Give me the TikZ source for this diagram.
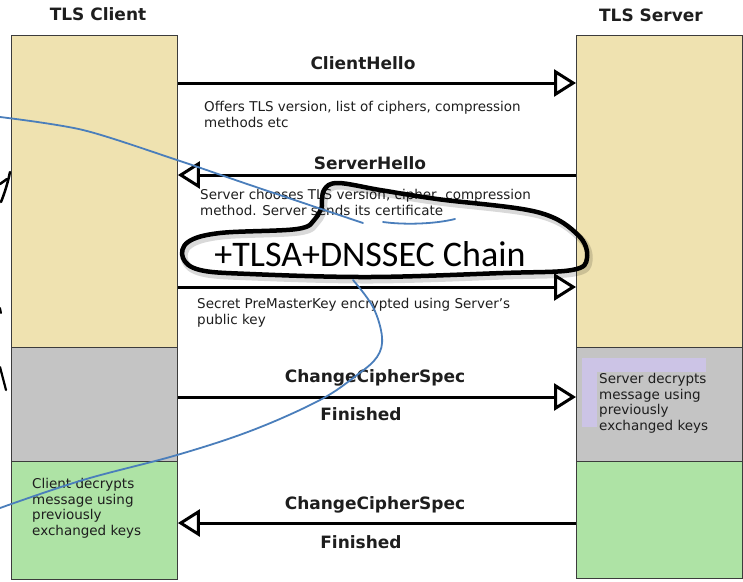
\documentclass[tikz,border=0pt]{standalone}
\usepackage{fontspec}
\setmainfont{DejaVu Sans}
\newfontfamily\handfont{Carlito}
\usetikzlibrary{arrows.meta}

\definecolor{laneBeige}{RGB}{239,226,176}
\definecolor{laneGray}{RGB}{196,196,196}
\definecolor{laneGreen}{RGB}{174,227,165}
\definecolor{notePurple}{RGB}{204,196,230}
\definecolor{boxLine}{RGB}{60,60,60}
\definecolor{inkText}{RGB}{30,30,30}
\definecolor{penBlue}{RGB}{74,126,187}

\begin{document}
\begin{tikzpicture}[x=1pt,y=-1pt,
  lane/.style={draw=boxLine, line width=0.9pt, inner sep=0pt, minimum width=166pt, anchor=north west},
  title/.style={font=\bfseries\fontsize{17}{20}\selectfont, text=inkText},
  msglabel/.style={font=\bfseries\fontsize{17}{20}\selectfont, text=inkText},
  note/.style={font=\fontsize{13.5}{15.7}\selectfont, text=inkText, align=left, anchor=north west, inner sep=0pt},
  msg/.style={line width=3pt, -{Triangle[open, length=22pt, width=27pt]}},
  ink/.style={line width=4.5pt, line cap=round, line join=round},
  pen/.style={draw=penBlue, line width=1.8pt, line cap=round, line join=round}
]
\useasboundingbox (0,0) rectangle (743,581);

% lane titles
\node[title] (tc) at (98,14) {TLS Client};
\node[title] (ts) at (651,15) {TLS Server};

% client lane
\node[lane, fill=laneBeige, minimum height=312pt] (cb) at (11,35) {};
\node[lane, fill=laneGray,  minimum height=114pt] (cg) at (11,347) {};
\node[lane, fill=laneGreen, minimum height=118pt] (cn) at (11,461) {};

% server lane
\node[lane, fill=laneBeige, minimum height=312pt] (sb) at (576,35) {};
\node[lane, fill=laneGray,  minimum height=114pt] (sg) at (576,347) {};
\node[lane, fill=laneGreen, minimum height=117pt] (sn) at (576,461) {};

% highlighted note inside the server's gray phase
\fill[notePurple] (582,358) rectangle (706,427);
\fill[laneGray] (597,372) rectangle (706,432);
\node[note] (sdec) at (599,373) {Server decrypts\\message using\\previously\\exchanged keys};
\node[note] (cdec) at (32,478) {Client decrypts\\message using\\previously\\exchanged keys};

% handshake messages
\node[msglabel] (m1) at (363,63) {ClientHello};
\draw[msg] (cb.east |- 0,83) -- (sb.west |- 0,83);
\node[note] (d1) at (204,101) {Offers TLS version, list of ciphers, compression\\methods etc};

\node[msglabel] (m2) at (370,163) {ServerHello};
\draw[msg] (sb.west |- 0,175) -- (cb.east |- 0,175);
\node[note] (d2) at (200,189) {Server chooses TLS version, cipher, compression\\method. Server sends its certificate};

\draw[msg] (cb.east |- 0,287) -- (sb.west |- 0,287);
\node[note] (d3) at (197,298) {Secret PreMasterKey encrypted using Server's\\public key};

\node[msglabel] (m4) at (375,378) {ChangeCipherSpec};
\draw[msg] (cg.east |- 0,397) -- (sg.west |- 0,397);
\node[msglabel] (f4) at (361,414) {Finished};

\node[msglabel] (m5) at (375,505) {ChangeCipherSpec};
\draw[msg] (sn.west |- 0,523) -- (cn.east |- 0,523);
\node[msglabel] (f5) at (361,542) {Finished};

% hand-drawn annotation
\node[font=\handfont\fontsize{36}{42}\selectfont, text=black] (tlsa) at (370,254) {+TLSA+DNSSEC Chain};
\begin{scope}[shift={(2,3)}]
\draw[ink, draw=black, opacity=0.15, line width=7pt] plot[smooth, tension=0.6] coordinates {
  (322,206) (324,190) (338,183) (380,190) (437,199) (537,212) (578,235) (587,258)
  (572,270) (503,273) (370,277) (250,274) (200,270) (183,258) (188,242) (220,233)
  (297,229) (315,219) (322,206)};
\end{scope}
\draw[ink] plot[smooth, tension=0.6] coordinates {
  (322,206) (324,190) (338,183) (380,190) (437,199) (537,212) (578,235) (587,258)
  (572,270) (503,273) (370,277) (250,274) (200,270) (183,258) (188,242) (220,233)
  (297,229) (315,219) (322,206)};

% blue pen strokes
\draw[pen] plot[smooth, tension=0.5] coordinates {(0,117) (83,130) (177,160) (250,185) (363,223)};
\draw[pen] (383,222) .. controls (405,225) and (435,224) .. (455,219);
\draw[pen] plot[smooth, tension=0.6] coordinates {(353,280) (373,307) (382,337) (377,357) (357,375) (320,400) (253,430) (177,455) (83,480) (0,508)};

% pen fragments at the left margin
\draw[ink, line width=2.5pt] (0,184) -- (7,179);
\draw[ink, line width=2.5pt] (10,172) .. controls (8,182) and (5,192) .. (1,202);
\draw[ink, line width=2pt] (0,308) -- (1,313);
\draw[ink, line width=2.2pt] (0,367) -- (6,390);
\end{tikzpicture}
\end{document}
